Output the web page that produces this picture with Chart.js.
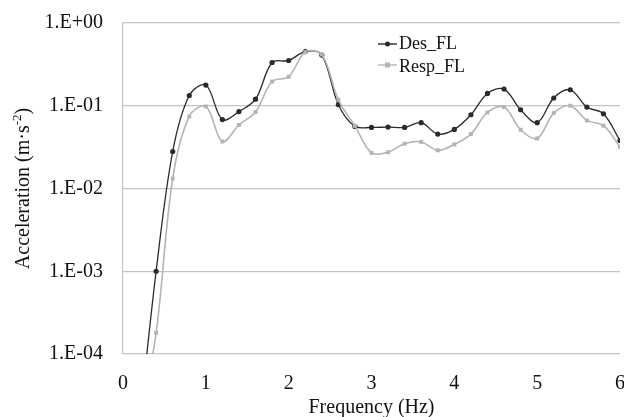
<!DOCTYPE html>
<html>
<head>
<meta charset="utf-8">
<script src="https://cdn.jsdelivr.net/npm/chart.js@4.4.1/dist/chart.umd.min.js"></script>
<style>
html,body{margin:0;padding:0;background:#fff;}
#wrap{position:relative;width:624px;height:417px;}
</style>
</head>
<body>
<div id="wrap"><canvas id="c" width="624" height="417"></canvas></div>
<script>
// Frequency (Hz)
const freq = [0.2,0.4,0.6,0.8,1.0,1.2,1.4,1.6,1.8,2.0,2.2,2.4,2.6,2.8,3.0,3.2,3.4,3.6,3.8,4.0,4.2,4.4,4.6,4.8,5.0,5.2,5.4,5.6,5.8,6.0];
// Acceleration (m·s-2)
const desFL = [1.5e-5,1.0e-3,0.028,0.133,0.178,0.068,0.085,0.120,0.333,0.352,0.452,0.41,0.103,0.0563,0.0547,0.0553,0.0547,0.0624,0.0455,0.0518,0.0778,0.141,0.159,0.0895,0.0624,0.124,0.156,0.0965,0.080,0.038];
const respFL = [1.4e-5,1.8e-4,0.0132,0.0743,0.098,0.037,0.0585,0.084,0.196,0.224,0.445,0.416,0.118,0.057,0.0269,0.0274,0.0348,0.0365,0.0289,0.0341,0.0455,0.083,0.0965,0.0513,0.0403,0.0816,0.100,0.0665,0.0574,0.032];
const seriesNames = ['Des_FL','Resp_FL'];
const yTicks = [1e-4,1e-3,1e-2,1e-1,1];
const xTicks = [0,1,2,3,4,5,6];
const xTitle = 'Frequency (Hz)';
const yTitleMain = 'Acceleration (m·s';
const yTitleSup = '-2';
const yTitleEnd = ')';

const SERIF = '"Liberation Serif", "Times New Roman", serif';
const BLACK = '#2a2a2a';
const GRAY = '#b4b4b4';

function pts(ys){ return freq.map((x,i)=>({x:x,y:ys[i]})); }
function fmt(v){
  const e = Math.round(Math.log10(v));
  const a = Math.abs(e);
  return '1.E' + (e>=0?'+':'-') + (a<10?'0':'') + a;
}

const legendPlugin = {
  id:'customLegend',
  afterDraw(chart){
    const ctx = chart.ctx;
    const items = [
      {name:seriesNames[0], color:BLACK, style:'circle', y:44, base:49},
      {name:seriesNames[1], color:GRAY, style:'rect', y:65, base:72}
    ];
    ctx.save();
    items.forEach(it=>{
      ctx.strokeStyle = it.color; ctx.lineWidth = 1.4;
      ctx.beginPath(); ctx.moveTo(378,it.y); ctx.lineTo(397,it.y); ctx.stroke();
      ctx.fillStyle = it.color;
      if(it.style==='circle'){ ctx.beginPath(); ctx.arc(387.5,it.y,2.5,0,Math.PI*2); ctx.fill(); }
      else { ctx.fillRect(385,it.y-2.5,5,5); }
      ctx.fillStyle = '#111';
      ctx.font = '18px ' + SERIF;
      ctx.textAlign = 'left'; ctx.textBaseline = 'alphabetic';
      ctx.fillText(it.name, 399, it.base);
    });
    // y axis title with superscript
    const ca = chart.chartArea;
    const cy = (ca.top + ca.bottom)/2;
    ctx.translate(29, cy);
    ctx.rotate(-Math.PI/2);
    ctx.fillStyle = '#111';
    ctx.textBaseline = 'alphabetic';
    const f1 = '20px ' + SERIF, f2 = '13px ' + SERIF;
    ctx.font = f1; const w1 = ctx.measureText(yTitleMain).width; const w3 = ctx.measureText(yTitleEnd).width;
    ctx.font = f2; const w2 = ctx.measureText(yTitleSup).width;
    const total = w1 + w2 + w3;
    let x = -total/2;
    ctx.textAlign='left';
    ctx.font = f1; ctx.fillText(yTitleMain, x, 0); x += w1;
    ctx.font = f2; ctx.fillText(yTitleSup, x, -8); x += w2;
    ctx.font = f1; ctx.fillText(yTitleEnd, x, 0);
    ctx.restore();
  }
};

new Chart(document.getElementById('c'), {
  type:'line',
  data:{
    datasets:[
      {label:seriesNames[0], data:pts(desFL), borderColor:BLACK, backgroundColor:BLACK, borderWidth:1.3,
       pointStyle:'circle', pointRadius:2.6, pointBorderWidth:0, tension:0.35, order:1},
      {label:seriesNames[1], data:pts(respFL), borderColor:GRAY, backgroundColor:GRAY, borderWidth:1.6,
       pointStyle:'rect', pointRadius:2.8, pointBorderWidth:0, tension:0.35, order:0}
    ]
  },
  options:{
    responsive:false,
    animation:false,
    devicePixelRatio:1,
    layout:{padding:{top:23,right:1,bottom:0,left:0}},
    plugins:{legend:{display:false}, tooltip:{enabled:false}},
    scales:{
      x:{
        type:'linear', min:0, max:6,
        afterBuildTicks(s){ s.ticks = xTicks.map(v=>({value:v})); },
        afterFit(s){ s.height = 63; s.paddingLeft = 0; s.paddingRight = 0; },
        grid:{display:false, drawTicks:false},
        border:{display:false},
        ticks:{padding:18, color:'#111', font:{family:SERIF, size:20}, maxRotation:0, autoSkip:false},
        title:{display:true, text:xTitle, color:'#111', font:{family:SERIF, size:20}, padding:{top:0,bottom:-3}}
      },
      y:{
        type:'logarithmic', min:1e-4, max:1,
        afterBuildTicks(s){ s.ticks = yTicks.map(v=>({value:v})); },
        afterFit(s){ s.width = 123; s.paddingTop = 0; s.paddingBottom = 0; },
        grid:{color:'#c4c4c4', lineWidth:1.2, drawTicks:false},
        border:{display:true, color:'#c4c4c4', width:1.2},
        ticks:{padding:20, color:'#111', font:{family:SERIF, size:20}, callback:(v)=>fmt(v), autoSkip:false},
        title:{display:false}
      }
    }
  },
  plugins:[legendPlugin]
});
</script>
</body>
</html>
